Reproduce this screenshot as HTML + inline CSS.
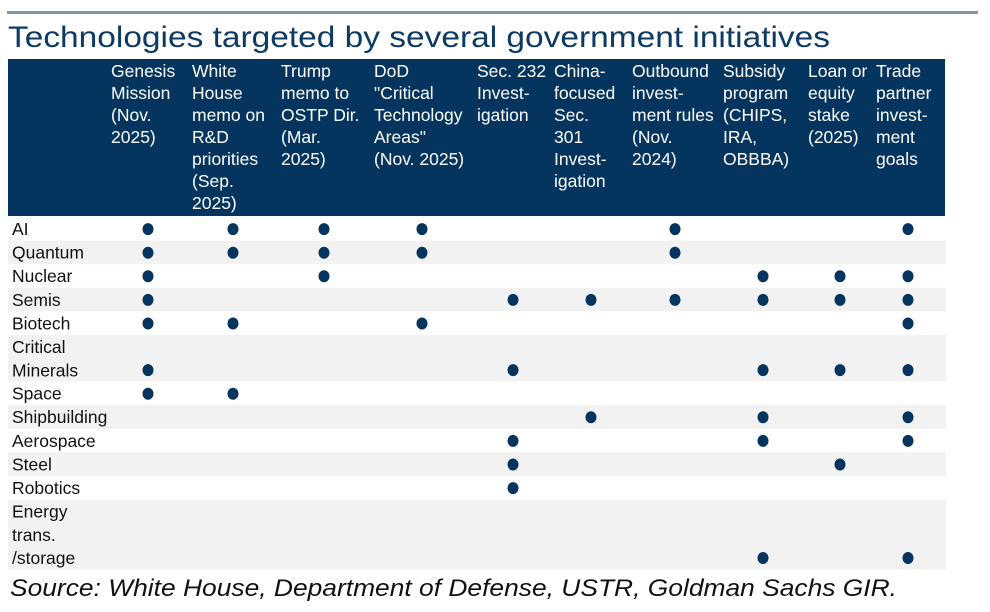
<!DOCTYPE html>
<html><head><meta charset="utf-8"><style>
body{margin:0;background:#fff;}
svg{display:block;font-family:"Liberation Sans",Arial,sans-serif;}
</style></head><body>
<svg id="chart" width="990" height="612" viewBox="0 0 990 612">
<rect x="7" y="11" width="971" height="3" fill="#7e96b0"/>
<text x="8" y="47" font-family="Liberation Sans, sans-serif" font-size="30" fill="#0d3a63" textLength="822" lengthAdjust="spacingAndGlyphs">Technologies targeted by several government initiatives</text>
<rect x="8" y="59" width="937" height="157" fill="#05355f"/>
<g id="hdr"></g>
<g id="rows"></g>
<g id="dots"></g>
<text x="10" y="596" font-style="italic" font-size="24" fill="#111" textLength="887" lengthAdjust="spacingAndGlyphs">Source: White House, Department of Defense, USTR, Goldman Sachs GIR.</text>
</svg>
<script>
const columns = [
 ["Genesis","Mission","(Nov.","2025)"],
 [" White","House","memo on","R&D","priorities","(Sep.","2025)"],
 ["Trump","memo to","OSTP Dir.","(Mar.","2025)"],
 ["DoD","\"Critical","Technology","Areas\"","(Nov. 2025)"],
 ["Sec. 232","Invest-","igation"],
 ["China-","focused","Sec.","301","Invest-","igation"],
 ["Outbound","invest-","ment rules","(Nov.","2024)"],
 ["Subsidy","program","(CHIPS,","IRA,","OBBBA)"],
 ["Loan or","equity","stake","(2025)"],
 ["Trade","partner","invest-","ment","goals"]
];
const technologies = [["AI"],["Quantum"],["Nuclear"],["Semis"],["Biotech"],["Critical","Minerals"],["Space"],["Shipbuilding"],["Aerospace"],["Steel"],["Robotics"],["Energy","trans.","/storage"]];
const targeted = [
 [1,1,1,1,0,0,1,0,0,1],
 [1,1,1,1,0,0,1,0,0,0],
 [1,0,1,0,0,0,0,1,1,1],
 [1,0,0,0,1,1,1,1,1,1],
 [1,1,0,1,0,0,0,0,0,1],
 [1,0,0,0,1,0,0,1,1,1],
 [1,1,0,0,0,0,0,0,0,0],
 [0,0,0,0,0,1,0,1,0,1],
 [0,0,0,0,1,0,0,1,0,1],
 [0,0,0,0,1,0,0,0,1,0],
 [0,0,0,0,1,0,0,0,0,0],
 [0,0,0,0,0,0,0,1,0,1]
];
const NS="http://www.w3.org/2000/svg";
const colText=[111,192,281,374,477,554,632,723,808,876];
const colDot=[148,233,324,422,513,591,675,763,840,908];
const hdr=document.getElementById('hdr'),rowsG=document.getElementById('rows'),dotsG=document.getElementById('dots');
function mk(t,a){const e=document.createElementNS(NS,t);for(const k in a)e.setAttribute(k,a[k]);return e;}
columns.forEach((lines,i)=>{
 const t=mk('text',{x:colText[i],y:77,'font-size':17.5,fill:'#fff'});
 t.setAttribute('xml:space','preserve');
 
 
 lines.forEach((l,j)=>{const s=mk('tspan',{x:colText[i],y:77+j*22});s.textContent=l;t.appendChild(s);});
 hdr.appendChild(t);
});
const lineH=23.3;
let y=217;
technologies.forEach((lines,r)=>{
 const h=lines.length===1?23.6:lines.length*lineH;
 if(r%2===1){const bg=mk('rect',{x:8,y:y,width:938,height:h,fill:'#f2f2f2'});
  
  
  rowsG.appendChild(bg);}
 const t=mk('text',{x:12,'font-size':17.5,fill:'#111'});
 
 
 lines.forEach((l,j)=>{const s=mk('tspan',{x:12,y:y+18+j*lineH});s.textContent=l;t.appendChild(s);});
 rowsG.appendChild(t);
 const cy=y+h-11.5;
 targeted[r].forEach((v,c)=>{
  if(!v)return;
  const d=mk('ellipse',{cx:colDot[c],cy:cy,rx:5.5,ry:6,fill:'#05355f'});
  
  
  dotsG.appendChild(d);
 });
 y+=h;
});
</script>
</body></html>
